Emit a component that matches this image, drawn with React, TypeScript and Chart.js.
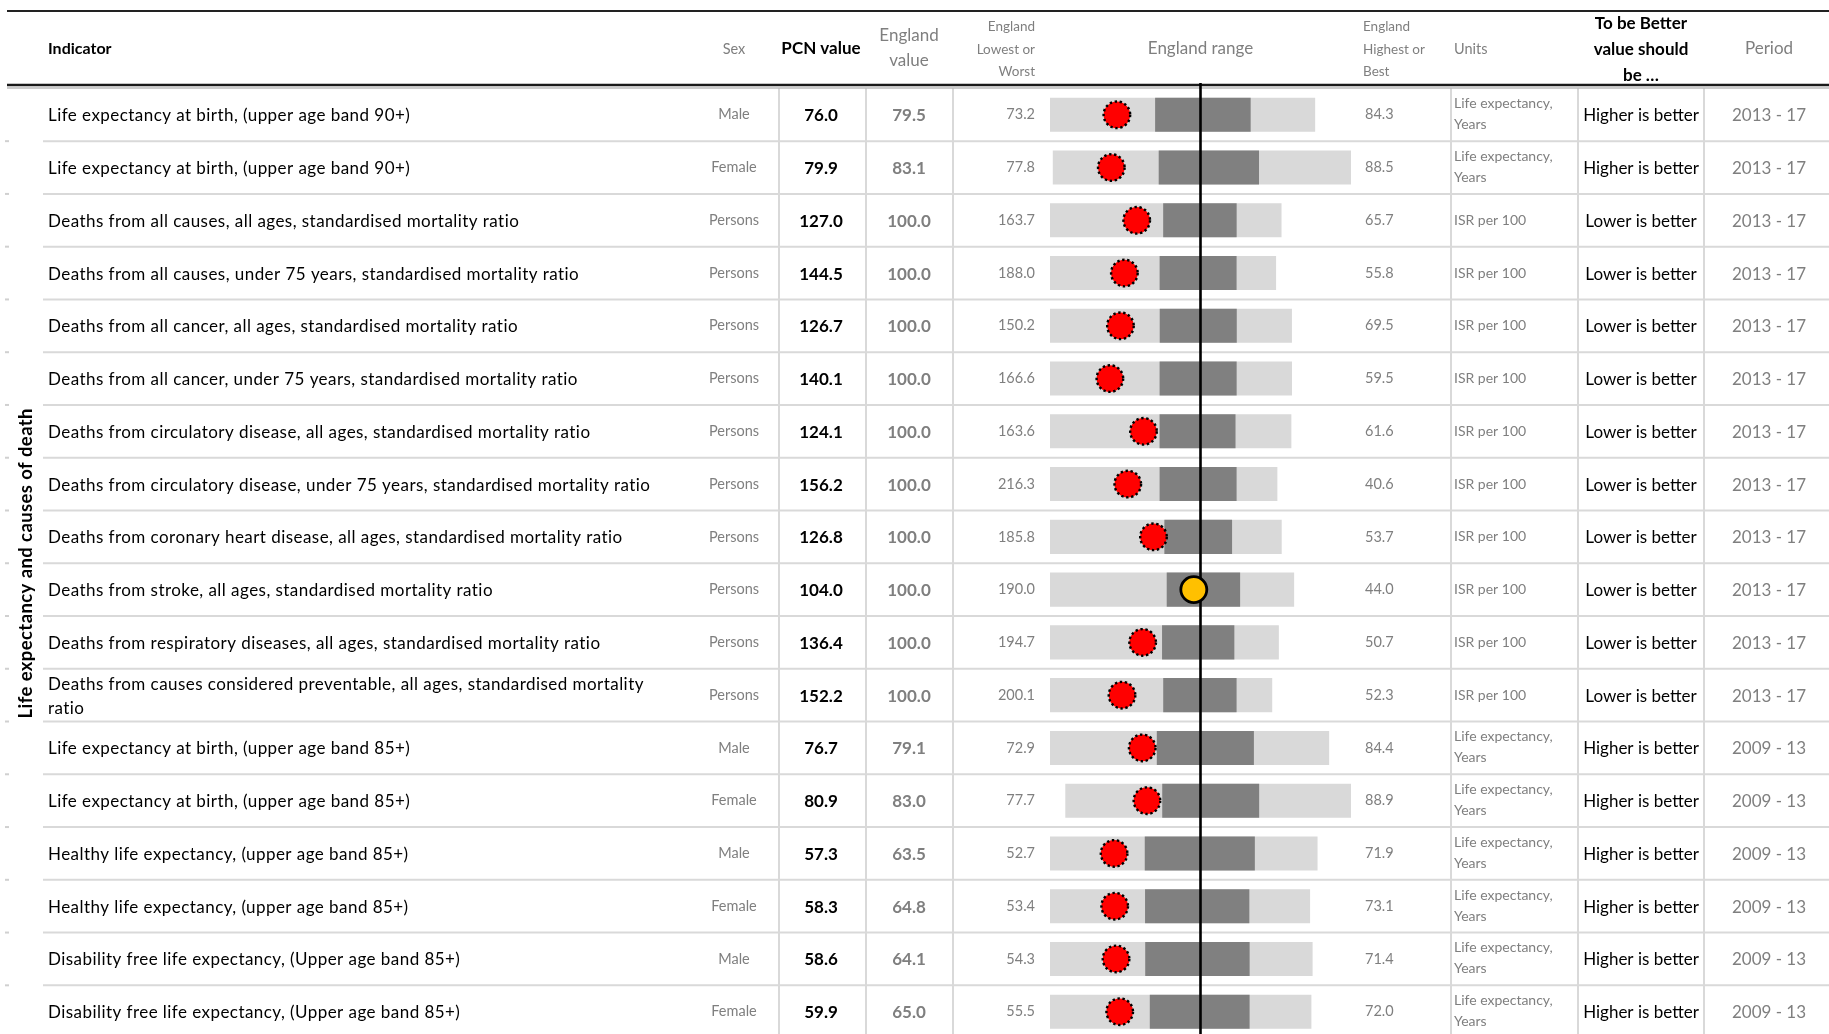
import React, { useEffect, useRef } from 'react';
import { Chart, registerables } from 'chart.js';

Chart.register(...registerables);

// ---------------- data ----------------
const groupLabel = 'Life expectancy and causes of death';

const indicators = [
  'Life expectancy at birth, (upper age band 90+)',
  'Life expectancy at birth, (upper age band 90+)',
  'Deaths from all causes, all ages, standardised mortality ratio',
  'Deaths from all causes, under 75 years, standardised mortality ratio',
  'Deaths from all cancer, all ages, standardised mortality ratio',
  'Deaths from all cancer, under 75 years, standardised mortality ratio',
  'Deaths from circulatory disease, all ages, standardised mortality ratio',
  'Deaths from circulatory disease, under 75 years, standardised mortality ratio',
  'Deaths from coronary heart disease, all ages, standardised mortality ratio',
  'Deaths from stroke, all ages, standardised mortality ratio',
  'Deaths from respiratory diseases, all ages, standardised mortality ratio',
  'Deaths from causes considered preventable, all ages, standardised mortality ratio',
  'Life expectancy at birth, (upper age band 85+)',
  'Life expectancy at birth, (upper age band 85+)',
  'Healthy life expectancy, (upper age band 85+)',
  'Healthy life expectancy, (upper age band 85+)',
  'Disability free life expectancy, (Upper age band 85+)',
  'Disability free life expectancy, (Upper age band 85+)',
];

const sexes = ['Male', 'Female', 'Persons', 'Persons', 'Persons', 'Persons', 'Persons', 'Persons', 'Persons', 'Persons', 'Persons', 'Persons', 'Male', 'Female', 'Male', 'Female', 'Male', 'Female'];

const pcnValues = [76.0, 79.9, 127.0, 144.5, 126.7, 140.1, 124.1, 156.2, 126.8, 104.0, 136.4, 152.2, 76.7, 80.9, 57.3, 58.3, 58.6, 59.9];

const englandValues = [79.5, 83.1, 100.0, 100.0, 100.0, 100.0, 100.0, 100.0, 100.0, 100.0, 100.0, 100.0, 79.1, 83.0, 63.5, 64.8, 64.1, 65.0];

const englandWorst = [73.2, 77.8, 163.7, 188.0, 150.2, 166.6, 163.6, 216.3, 185.8, 190.0, 194.7, 200.1, 72.9, 77.7, 52.7, 53.4, 54.3, 55.5];

const englandBest = [84.3, 88.5, 65.7, 55.8, 69.5, 59.5, 61.6, 40.6, 53.7, 44.0, 50.7, 52.3, 84.4, 88.9, 71.9, 73.1, 71.4, 72.0];

// inter-quartile range ends (worse end, better end)
const quartileWorse = [77.6, 81.6, 115.8, 123.9, 113.6, 118.1, 117.3, 131.6, 120.6, 120.2, 124.2, 124.8, 77.3, 81.5, 59.5, 60.6, 60.5, 61.8];
const quartileBetter = [81.6, 85.2, 84.7, 78.9, 87.9, 84.0, 85.2, 72.1, 82.0, 76.3, 78.7, 76.0, 81.3, 85.3, 67.4, 68.5, 67.3, 68.1];

const units = [
  'Life expectancy, Years', 'Life expectancy, Years',
  'ISR per 100', 'ISR per 100', 'ISR per 100', 'ISR per 100', 'ISR per 100', 'ISR per 100', 'ISR per 100', 'ISR per 100', 'ISR per 100', 'ISR per 100',
  'Life expectancy, Years', 'Life expectancy, Years', 'Life expectancy, Years', 'Life expectancy, Years', 'Life expectancy, Years', 'Life expectancy, Years',
];

const polarity = [
  'Higher is better', 'Higher is better',
  'Lower is better', 'Lower is better', 'Lower is better', 'Lower is better', 'Lower is better', 'Lower is better', 'Lower is better', 'Lower is better', 'Lower is better', 'Lower is better',
  'Higher is better', 'Higher is better', 'Higher is better', 'Higher is better', 'Higher is better', 'Higher is better',
];

const periods = ['2013 - 17', '2013 - 17', '2013 - 17', '2013 - 17', '2013 - 17', '2013 - 17', '2013 - 17', '2013 - 17', '2013 - 17', '2013 - 17', '2013 - 17', '2013 - 17', '2009 - 13', '2009 - 13', '2009 - 13', '2009 - 13', '2009 - 13', '2009 - 13'];

const significance = ['worse', 'worse', 'worse', 'worse', 'worse', 'worse', 'worse', 'worse', 'worse', 'similar', 'worse', 'worse', 'worse', 'worse', 'worse', 'worse', 'worse', 'worse'];

// ---------------- layout / style ----------------
const W = 1829;
const H = 1060;
const FONT = 'Lato, "Liberation Sans", Arial, sans-serif';
const GRAY = '#7f7f7f';
const LINE = '#d9d9d9';
const dividers = [779, 866, 953, 1451, 1578, 1704];
const col = { ind: 48, sex: 734, pcn: 821, eng: 909, low: 1035, high: 1365, units: 1454, better: 1641, period: 1769 };

const norm = (i: number, v: number) => {
  const e = englandValues[i];
  const dev = Math.max(Math.abs(englandWorst[i] - e), Math.abs(englandBest[i] - e));
  const dir = polarity[i] === 'Higher is better' ? 1 : -1;
  return (dir * (v - e)) / dev;
};

const idx = indicators.map((_, i) => i);

function txt(ctx: CanvasRenderingContext2D, s: string, x: number, y: number, font: string, color: string, align: CanvasTextAlign, spacing = 0) {
  ctx.font = font;
  (ctx as any).letterSpacing = `${spacing}px`;
  ctx.fillStyle = color;
  ctx.textAlign = align;
  ctx.textBaseline = 'middle';
  ctx.fillText(s, x, y);
  (ctx as any).letterSpacing = '0px';
}

function wrap(ctx: CanvasRenderingContext2D, s: string, font: string, maxW: number, spacing = 0) {
  ctx.font = font;
  (ctx as any).letterSpacing = `${spacing}px`;
  const words = s.split(' ');
  const lines: string[] = [];
  let cur = '';
  for (const w of words) {
    const t = cur ? cur + ' ' + w : w;
    if (ctx.measureText(t).width > maxW && cur) {
      lines.push(cur);
      cur = w;
    } else cur = t;
  }
  if (cur) lines.push(cur);
  (ctx as any).letterSpacing = '0px';
  return lines;
}

const hline = (ctx: CanvasRenderingContext2D, x1: number, x2: number, y: number, color: string, w: number) => {
  ctx.strokeStyle = color;
  ctx.lineWidth = w;
  ctx.beginPath();
  ctx.moveTo(x1, y);
  ctx.lineTo(x2, y);
  ctx.stroke();
};
const vline = (ctx: CanvasRenderingContext2D, x: number, y1: number, y2: number, color: string, w: number) => {
  ctx.strokeStyle = color;
  ctx.lineWidth = w;
  ctx.beginPath();
  ctx.moveTo(x, y1);
  ctx.lineTo(x, y2);
  ctx.stroke();
};

const tablePlugin = {
  id: 'spineTable',
  beforeDatasetsDraw(chart: any) {
    const ctx: CanvasRenderingContext2D = chart.ctx;
    const ys = chart.scales.y;
    const half = (ys.getPixelForValue(1) - ys.getPixelForValue(0)) / 2;
    const top = ys.getPixelForValue(0) - half;
    ctx.save();
    for (let i = 1; i <= indicators.length; i++) {
      const yy = ys.getPixelForValue(i) - half;
      hline(ctx, 43, W, yy, LINE, 2);
      hline(ctx, 5, 9, yy, '#d0d0d0', 2);
    }
    for (const x of dividers) vline(ctx, x, top, H, LINE, 2);
    // header rules
    hline(ctx, 7, W, 11, '#222222', 2);
    hline(ctx, 7, W, 85, '#1a1a1a', 2.4);
    hline(ctx, 7, W, 88, '#9a9a9a', 1.2);
    ctx.restore();
  },
  beforeDatasetDraw(chart: any, args: any) {
    if (args.index === 3) {
      chart.ctx.save();
      chart.ctx.setLineDash([2.4, 2.6]);
    }
  },
  afterDatasetDraw(chart: any, args: any) {
    const ctx: CanvasRenderingContext2D = chart.ctx;
    if (args.index === 3) ctx.restore();
    if (args.index === 1) {
      const x0 = chart.scales.x.getPixelForValue(0);
      ctx.save();
      vline(ctx, x0, 83, H, '#000000', 2.6);
      ctx.restore();
    }
  },
  afterDraw(chart: any) {
    const ctx: CanvasRenderingContext2D = chart.ctx;
    const ys = chart.scales.y;
    ctx.save();
    const big = `17px ${FONT}`;
    const bigB = `bold 17px ${FONT}`;
    const small = `14.5px ${FONT}`;
    const smaller = `14px ${FONT}`;
    const indSp = 0.45;
    // header
    txt(ctx, 'Indicator', col.ind, 49, `bold 16px ${FONT}`, '#000', 'left');
    txt(ctx, 'Sex', col.sex, 49, small, GRAY, 'center');
    txt(ctx, 'PCN value', col.pcn, 49, bigB, '#000', 'center');
    txt(ctx, 'England', col.eng, 36, big, GRAY, 'center');
    txt(ctx, 'value', col.eng, 61, big, GRAY, 'center');
    ['England', 'Lowest or', 'Worst'].forEach((s, k) => txt(ctx, s, col.low, 27 + k * 22.5, `13.5px ${FONT}`, GRAY, 'right'));
    txt(ctx, 'England range', chart.scales.x.getPixelForValue(0), 49, big, GRAY, 'center');
    ['England', 'Highest or', 'Best'].forEach((s, k) => txt(ctx, s, col.high - 2, 27 + k * 22.5, `13.5px ${FONT}`, GRAY, 'left'));
    txt(ctx, 'Units', col.units, 49, small, GRAY, 'left');
    ['To be Better', 'value should', 'be \u2026'].forEach((s, k) => txt(ctx, s, col.better, 24 + k * 26, bigB, '#000', 'center'));
    txt(ctx, 'Period', col.period, 49, big, GRAY, 'center');

    // group label
    const gy = (ys.getPixelForValue(0) + ys.getPixelForValue(indicators.length - 1)) / 2;
    ctx.save();
    ctx.translate(26, gy);
    ctx.rotate(-Math.PI / 2);
    txt(ctx, groupLabel, 0, 0, `bold 18.5px ${FONT}`, '#000', 'center', 0.4);
    ctx.restore();

    idx.forEach((i) => {
      const yc = ys.getPixelForValue(i);
      const lines = wrap(ctx, indicators[i], big, 630, indSp);
      if (lines.length === 1) txt(ctx, lines[0], col.ind, yc + 1, big, '#000', 'left', indSp);
      else lines.forEach((l, k) => txt(ctx, l, col.ind, yc - 11 + k * 24, big, '#000', 'left', indSp));
      txt(ctx, sexes[i], col.sex, yc, small, GRAY, 'center');
      txt(ctx, pcnValues[i].toFixed(1), col.pcn, yc + 1, bigB, '#000', 'center');
      txt(ctx, englandValues[i].toFixed(1), col.eng, yc + 1, bigB, GRAY, 'center');
      txt(ctx, englandWorst[i].toFixed(1), col.low, yc, small, GRAY, 'right');
      txt(ctx, englandBest[i].toFixed(1), col.high, yc, small, GRAY, 'left');
      const ul = wrap(ctx, units[i], smaller, 114);
      if (ul.length === 1) txt(ctx, ul[0], col.units, yc, smaller, GRAY, 'left');
      else ul.forEach((l, k) => txt(ctx, l, col.units, yc - 11 + k * 21, smaller, GRAY, 'left'));
      txt(ctx, polarity[i], col.better, yc + 1, big, '#000', 'center');
      txt(ctx, periods[i], col.period, yc + 1, big, GRAY, 'center');
    });
    ctx.restore();
  },
};

export default function App() {
  const ref = useRef<HTMLCanvasElement>(null);
  useEffect(() => {
    document.body.style.margin = '0';
    document.body.style.overflow = 'hidden';
    const rangeLeft = 1050;
    const rangeRight = 1351;
    const rowH = 52.76;
    const top = 88.4;
    const bottom = top + rowH * indicators.length;
    const chart = new Chart(ref.current as HTMLCanvasElement, {
      type: 'bar',
      data: {
        labels: indicators,
        datasets: [
          {
            label: 'England range',
            data: idx.map((i) => [norm(i, englandWorst[i]), norm(i, englandBest[i])]) as any,
            backgroundColor: '#d9d9d9',
            borderWidth: 0,
            grouped: false,
            barPercentage: 0.645,
            categoryPercentage: 1,
            order: 3,
            indexAxis: 'y',
          } as any,
          {
            label: '25th to 75th percentile',
            data: idx.map((i) => [norm(i, quartileWorse[i]), norm(i, quartileBetter[i])]) as any,
            backgroundColor: '#808080',
            borderWidth: 0,
            grouped: false,
            barPercentage: 0.645,
            categoryPercentage: 1,
            order: 2,
            indexAxis: 'y',
          } as any,
          {
            type: 'line',
            label: 'Similar to England',
            data: idx.map((i) => (significance[i] === 'similar' ? norm(i, pcnValues[i]) : null)) as any,
            showLine: false,
            indexAxis: 'y',
            borderColor: '#000',
            pointRadius: 13,
            pointBorderWidth: 2.8,
            pointBackgroundColor: '#ffc000',
            pointBorderColor: '#000000',
            order: 1,
          } as any,
          {
            type: 'line',
            label: 'Worse than England',
            data: idx.map((i) => (significance[i] === 'worse' ? norm(i, pcnValues[i]) : null)) as any,
            showLine: false,
            indexAxis: 'y',
            borderColor: '#000',
            pointRadius: 13.3,
            pointBorderWidth: 2.4,
            pointBackgroundColor: '#ff0000',
            pointBorderColor: '#000000',
            order: 0,
          } as any,
        ],
      },
      options: {
        indexAxis: 'y',
        responsive: false,
        maintainAspectRatio: false,
        animation: false,
        devicePixelRatio: 1,
        events: [],
        layout: {
          padding: { left: rangeLeft, right: W - rangeRight, top, bottom: H - bottom },
        },
        scales: {
          x: { type: 'linear', min: -1, max: 1, display: false, grid: { display: false } },
          y: { type: 'category', display: false, offset: true, grid: { display: false } },
        },
        plugins: { legend: { display: false }, tooltip: { enabled: false }, title: { display: false } },
      },
      plugins: [tablePlugin],
    } as any);
    return () => chart.destroy();
  }, []);
  return (
    <div style={{ position: 'fixed', left: 0, top: 0, width: W, height: H, background: '#ffffff' }}>
      <canvas ref={ref} width={W} height={H} style={{ width: W, height: H, display: 'block' }} />
    </div>
  );
}
